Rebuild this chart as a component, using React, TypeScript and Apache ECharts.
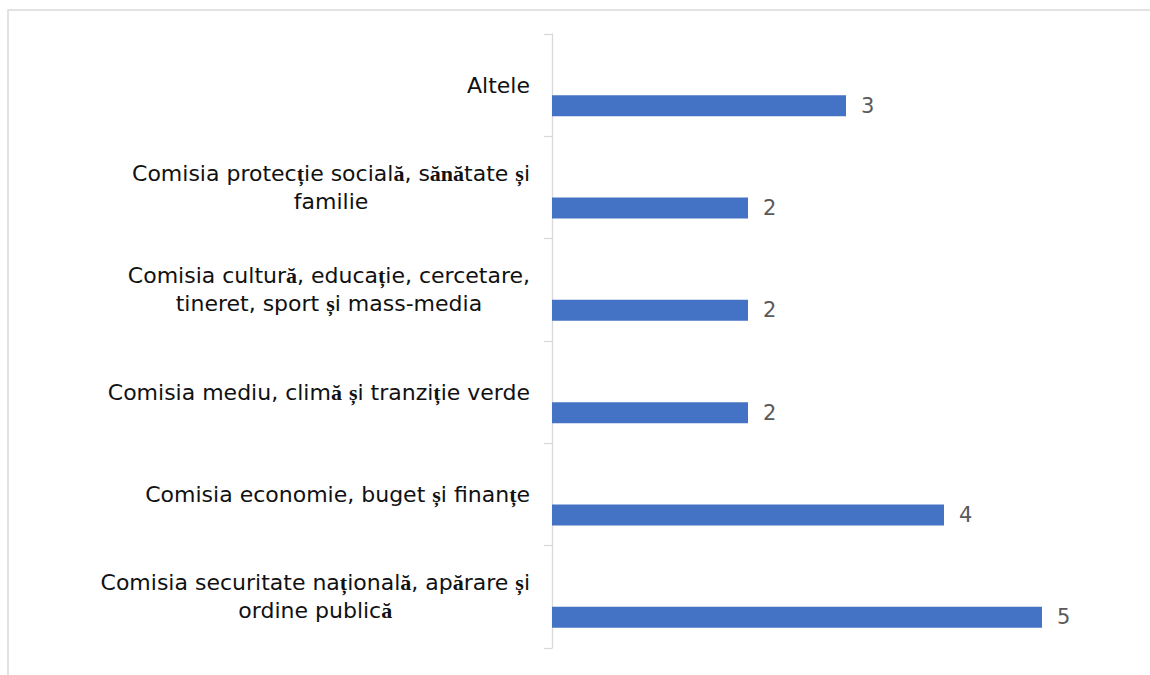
import React, { useEffect, useRef } from "react";
import * as echarts from "echarts";

// Categories listed top to bottom as they appear
const categories: string[] = [
  "Altele",
  "Comisia protecție socială, sănătate și\nfamilie",
  "Comisia cultură, educație, cercetare,\ntineret, sport și mass-media",
  "Comisia mediu, climă și tranziție verde",
  "Comisia economie, buget și finanțe",
  "Comisia securitate națională, apărare și\nordine publică",
];
const values: number[] = [3, 2, 2, 2, 4, 5];
const emptyValues: (number | null)[] = [null, null, null, null, null, null];

function formatLabel(value: string): string {
  return value
    .split("\n")
    .map((line) =>
      line
        .split(/(ănă|[ășț])/)
        .filter((s) => s.length > 0)
        .map((s) => (/^(ănă|[ășț])$/.test(s) ? `{b|${s}}` : `{n|${s}}`))
        .join("")
    )
    .join("\n");
}

export default function App() {
  const ref = useRef<HTMLDivElement>(null);
  useEffect(() => {
    if (!ref.current) return;
    const chart = echarts.init(ref.current, null, { renderer: "svg" });
    chart.setOption({
      animation: false,
      backgroundColor: "#ffffff",
      graphic: [
        {
          type: "rect",
          shape: { x: 8, y: 10, width: 1300, height: 800 },
          style: { fill: "none", stroke: "#d9d9d9", lineWidth: 1.5 },
          silent: true,
          z: -1,
        },
      ],
      grid: { left: 552, right: 10, top: 34, bottom: 27, containLabel: false },
      xAxis: {
        type: "value",
        min: 0,
        max: 6,
        show: false,
      },
      yAxis: {
        type: "category",
        inverse: true,
        data: categories,
        axisLine: { show: true, lineStyle: { color: "#d9d9d9", width: 1.3 } },
        axisTick: { show: true, length: 8, lineStyle: { color: "#d9d9d9", width: 1.3 } },
        splitLine: { show: false },
        axisLabel: {
          interval: 0,
          margin: 22,
          formatter: formatLabel,
          rich: {
            n: {
              fontFamily: "DejaVu Sans",
              fontSize: 22,
              color: "#111111",
              lineHeight: 28,
              align: "center",
            },
            b: {
              fontFamily: "Liberation Serif",
              fontWeight: "bold",
              fontSize: 22,
              color: "#111111",
              lineHeight: 28,
              align: "center",
            },
          },
        },
      },
      series: [
        {
          type: "bar",
          data: emptyValues,
          barWidth: 21,
          barGap: "95%",
          itemStyle: { color: "#4472c4" },
        },
        {
          type: "bar",
          data: values,
          barWidth: 21,
          barGap: "95%",
          itemStyle: { color: "#4472c4" },
          label: {
            show: true,
            position: "right",
            distance: 15,
            color: "#595959",
            fontSize: 21,
            fontFamily: "DejaVu Sans",
          },
        },
      ],
    });
    return () => chart.dispose();
  }, []);
  return (
    <div
      ref={ref}
      style={{ position: "fixed", left: 0, top: 0, width: 1150, height: 675 }}
    />
  );
}
